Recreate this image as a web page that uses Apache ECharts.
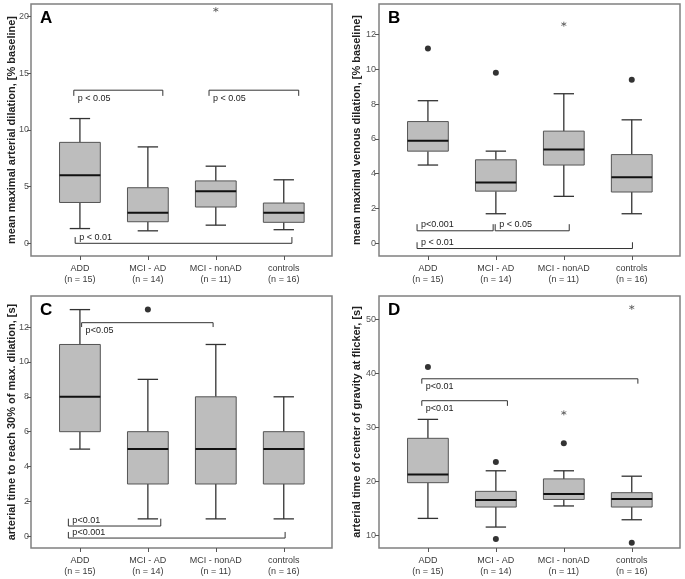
<!DOCTYPE html>
<html><head><meta charset="utf-8">
<script src="https://cdn.jsdelivr.net/npm/echarts@6/dist/echarts.min.js"></script>
<style>html,body{margin:0;padding:0;background:#fff}#c{width:685px;height:579px}</style>
</head><body><div id="c"></div>
<script>
// ---------- data ----------
const categories = ['ADD', 'MCI - AD', 'MCI - nonAD', 'controls'];
const groupSizes = [15, 14, 11, 16];

// box values: [lower whisker, Q1, median, Q3, upper whisker]
const boxA = [[1.3, 3.6, 6.0, 8.9, 11.0], [1.1, 1.9, 2.7, 4.9, 8.5], [1.6, 3.2, 4.6, 5.5, 6.8], [1.2, 1.85, 2.7, 3.55, 5.6]];
const boxB = [[4.5, 5.3, 5.9, 7.0, 8.2], [1.7, 3.0, 3.5, 4.8, 5.3], [2.7, 4.5, 5.4, 6.45, 8.6], [1.7, 2.95, 3.8, 5.1, 7.1]];
const boxC = [[5, 6, 8, 11, 13], [1, 3, 5, 6, 9], [1, 3, 5, 8, 11], [1, 3, 5, 6, 8]];
const boxD = [[13.2, 19.8, 21.3, 28.0, 31.5], [11.6, 15.3, 16.6, 18.2, 22.0], [15.5, 16.7, 17.7, 20.5, 22.0], [12.95, 15.3, 16.8, 17.95, 21.0]];

// outliers: [group index, value]
const dotsA = [];
const starsA = [[2, 20.6]];
const dotsB = [[0, 11.2], [1, 9.8], [3, 9.4]];
const starsB = [[2, 12.6]];
const dotsC = [[1, 13.0]];
const starsC = [];
const dotsD = [[0, 41.2], [1, 23.6], [1, 9.4], [2, 27.1], [3, 8.7]];
const starsD = [[2, 32.7], [3, 52.2]];

// significance brackets: [x start, x end, line value, tick-end value]
const bracketsA = [[-0.09, 1.22, 13.5, 13.0], [1.90, 3.22, 13.5, 13.0], [-0.07, 3.12, 0, 0.55]];
const bracketLabelsA = ['p < 0.05', 'p < 0.05', 'p < 0.01'];
const bracketsB = [[-0.16, 0.96, 0.72, 1.1], [0.99, 2.08, 0.72, 1.1], [-0.16, 3.01, -0.3, 0.06]];
const bracketLabelsB = ['p<0.001', 'p < 0.05', 'p < 0.01'];
const bracketsC = [[0.025, 1.96, 12.25, 12.0], [-0.17, 1.19, 0.59, 1.01], [-0.17, 3.02, -0.1, 0.25]];
const bracketLabelsC = ['p<0.05', 'p<0.01', 'p<0.001'];
const bracketsD = [[-0.09, 3.09, 39.0, 38.1], [-0.09, 1.17, 34.95, 34.0]];
const bracketLabelsD = ['p<0.01', 'p<0.01'];

// axes
const yTicksA = [0, 5, 10, 15, 20];
const yTicksB = [0, 2, 4, 6, 8, 10, 12];
const yTicksC = [0, 2, 4, 6, 8, 10, 12];
const yTicksD = [10, 20, 30, 40, 50];
const yRangeA = [-1.12, 21.1];
const yRangeB = [-0.73, 13.76];
const yRangeC = [-0.67, 13.78];
const yRangeD = [7.73, 54.3];
const yTitles = [
  'mean maximal arterial dilation, [% baseline]',
  'mean maximal venous dilation, [% baseline]',
  'arterial time to reach 30% of max. dilation, [s]',
  'arterial time of center of gravity at flicker, [s]'
];
const panelLetters = ['A', 'B', 'C', 'D'];

// ---------- chart ----------
const FONT = '"Liberation Sans", Arial, sans-serif';
const panels = [
  {box: boxA, dots: dotsA, stars: starsA, br: bracketsA, brl: bracketLabelsA, ticks: yTicksA, range: yRangeA, left: 31, top: 4, gap: 13.5, lm: 2},
  {box: boxB, dots: dotsB, stars: starsB, br: bracketsB, brl: bracketLabelsB, ticks: yTicksB, range: yRangeB, left: 379, top: 4, gap: 16.5, lm: 3},
  {box: boxC, dots: dotsC, stars: starsC, br: bracketsC, brl: bracketLabelsC, ticks: yTicksC, range: yRangeC, left: 31, top: 296, gap: 14, lm: 2},
  {box: boxD, dots: dotsD, stars: starsD, br: bracketsD, brl: bracketLabelsD, ticks: yTicksD, range: yRangeD, left: 379, top: 296, gap: 16.5, lm: 3}
];
const xIdx = [0, 1, 2, 3];

const grid = [], xAxis = [], yAxis = [], series = [], graphic = [];

function renderBox(params, api) {
  const x = api.value(0);
  const lo = api.coord([x, api.value(1)]);
  const q1 = api.coord([x, api.value(2)]);
  const md = api.coord([x, api.value(3)]);
  const q3 = api.coord([x, api.value(4)]);
  const hi = api.coord([x, api.value(5)]);
  const bw = api.size([0.6, 0])[0];
  const cw = bw / 2;
  const cx = lo[0];
  const lineStyle = {stroke: '#333', lineWidth: 1.3, fill: null};
  return {
    type: 'group',
    children: [
      {type: 'line', shape: {x1: cx, y1: q1[1], x2: cx, y2: lo[1]}, style: lineStyle},
      {type: 'line', shape: {x1: cx, y1: q3[1], x2: cx, y2: hi[1]}, style: lineStyle},
      {type: 'line', shape: {x1: cx - cw / 2, y1: lo[1], x2: cx + cw / 2, y2: lo[1]}, style: lineStyle},
      {type: 'line', shape: {x1: cx - cw / 2, y1: hi[1], x2: cx + cw / 2, y2: hi[1]}, style: lineStyle},
      {type: 'rect', shape: {x: cx - bw / 2, y: q3[1], width: bw, height: q1[1] - q3[1]}, style: {fill: '#bdbdbd', stroke: '#555', lineWidth: 1}},
      {type: 'line', shape: {x1: cx - bw / 2, y1: md[1], x2: cx + bw / 2, y2: md[1]}, style: {stroke: '#111', lineWidth: 2}}
    ]
  };
}

function makeBracketRenderer(labels) {
  return function (params, api) {
    const x1 = api.value(0), x2 = api.value(1), y = api.value(2), yt = api.value(3);
    const p1 = api.coord([x1, y]), p2 = api.coord([x2, y]);
    const t1 = api.coord([x1, yt]), t2 = api.coord([x2, yt]);
    const up = yt > y;
    return {
      type: 'group',
      children: [
        {type: 'polyline', shape: {points: [t1, p1, p2, t2]}, style: {stroke: '#333', lineWidth: 1, fill: null}},
        {type: 'text', style: {x: p1[0] + 4, y: up ? p1[1] - 6 : p1[1] + 8, text: labels[params.dataIndex],
          font: '9px ' + FONT, fill: '#222', align: 'left', verticalAlign: 'middle'}}
      ]
    };
  };
}

panels.forEach((p, i) => {
  grid.push({left: p.left, top: p.top, width: 301, height: 252, show: true, borderColor: '#808080', borderWidth: 1.5, backgroundColor: 'transparent'});
  xAxis.push({
    type: 'value', gridIndex: i, min: -0.72, max: 3.71,
    axisLine: {show: false, onZero: false}, splitLine: {show: false},
    axisTick: {show: true, customValues: xIdx, length: 4, lineStyle: {color: '#555'}},
    axisLabel: {customValues: xIdx, margin: 7, fontSize: 9, fontFamily: FONT, color: '#3a3a3a', lineHeight: 11,
      formatter: v => categories[Math.round(v)] + '\n(n = ' + groupSizes[Math.round(v)] + ')'}
  });
  yAxis.push({
    type: 'value', gridIndex: i, min: p.range[0], max: p.range[1],
    axisLine: {show: false, onZero: false}, splitLine: {show: false},
    axisTick: {show: true, customValues: p.ticks, length: 4, lineStyle: {color: '#555'}},
    axisLabel: {customValues: p.ticks, margin: p.lm, fontSize: 9, fontFamily: FONT, color: '#555'},
    name: yTitles[i], nameLocation: 'middle', nameGap: p.gap, nameMoveOverlap: false,
    nameTextStyle: {fontSize: 11, fontWeight: 'bold', fontFamily: FONT, color: '#222'}
  });
  series.push({
    type: 'custom', xAxisIndex: i, yAxisIndex: i, renderItem: renderBox,
    encode: {x: 0, y: [1, 2, 3, 4, 5]},
    data: p.box.map((b, k) => [xIdx[k]].concat(b)), silent: true
  });
  series.push({
    type: 'custom', xAxisIndex: i, yAxisIndex: i, renderItem: makeBracketRenderer(p.brl),
    encode: {x: [0, 1], y: [2, 3]}, data: p.br, silent: true
  });
  series.push({
    type: 'scatter', xAxisIndex: i, yAxisIndex: i, data: p.dots, symbol: 'circle', symbolSize: 6,
    itemStyle: {color: '#000'}, silent: true
  });
  series.push({
    type: 'scatter', xAxisIndex: i, yAxisIndex: i, data: p.stars,
    symbol: 'path://M0,-5L0,5M-4.33,-2.5L4.33,2.5M-4.33,2.5L4.33,-2.5', symbolSize: 5,
    itemStyle: {color: 'none', borderColor: '#555', borderWidth: 1}, silent: true
  });
  graphic.push({type: 'text', left: p.left + 9, top: p.top + 6,
    style: {text: panelLetters[i], font: 'bold 17px ' + FONT, fill: '#000'}});
});

const chart = echarts.init(document.getElementById('c'), null, {renderer: 'canvas'});
chart.setOption({animation: false, grid, xAxis, yAxis, series, graphic});
</script>
</body></html>
